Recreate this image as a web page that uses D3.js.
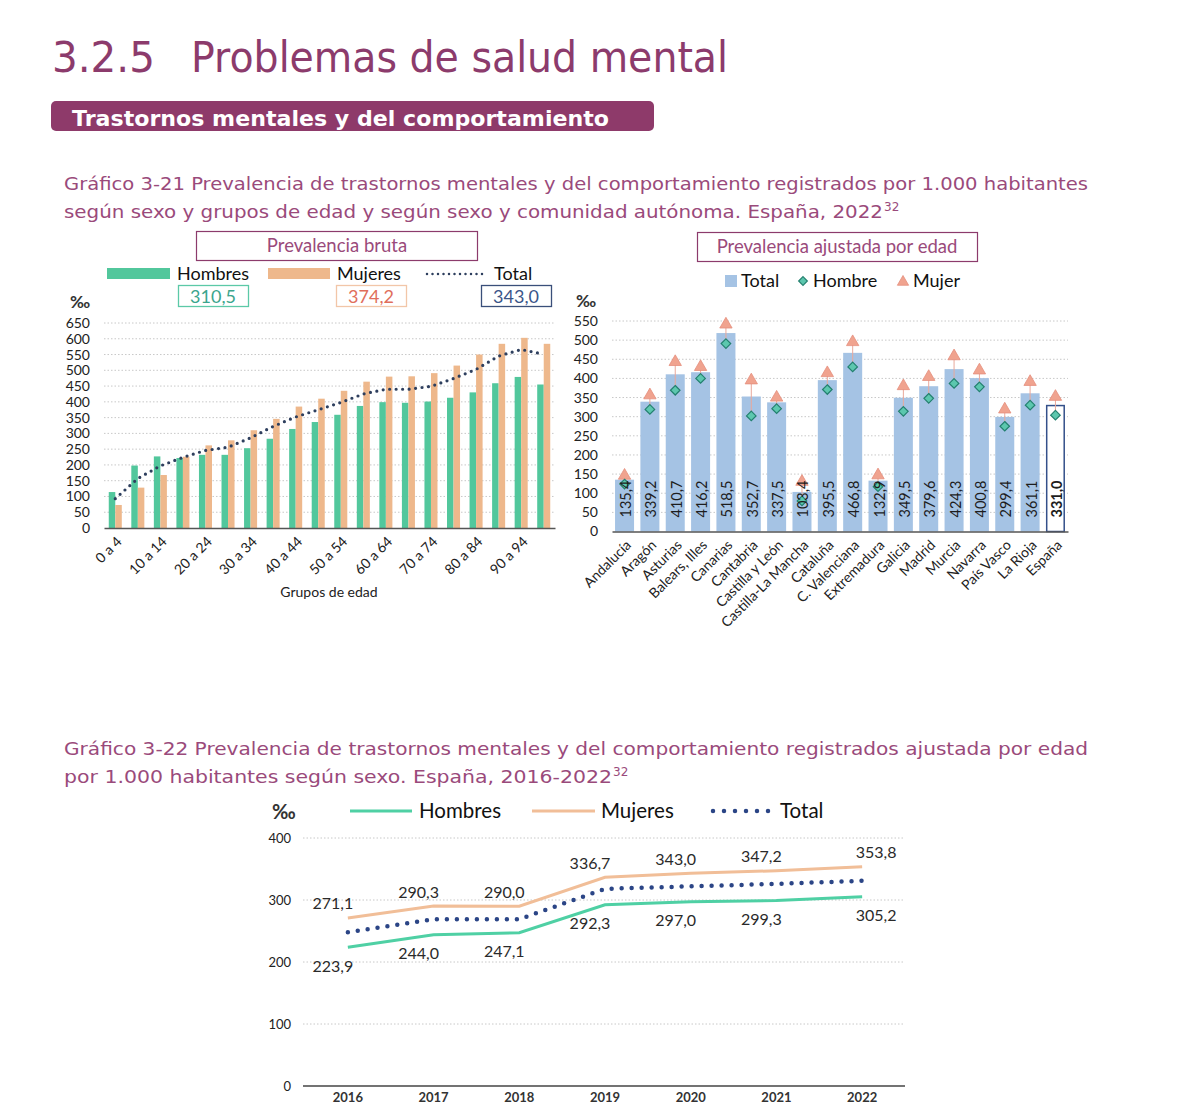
<!DOCTYPE html>
<html><head><meta charset="utf-8">
<script src="https://cdn.jsdelivr.net/npm/d3@7/dist/d3.min.js"></script>
<style>body{margin:0;background:#fff}svg{display:block}</style>
</head><body><svg id="c" width="1200" height="1113"></svg>
<script>
// ---------- DATA ----------
const ageGroups = ["0 a 4","5 a 9","10 a 14","15 a 19","20 a 24","25 a 29","30 a 34","35 a 39","40 a 44","45 a 49","50 a 54","55 a 59","60 a 64","65 a 69","70 a 74","75 a 79","80 a 84","85 a 89","90 a 94","95 y más"];
const ageHombres = [114,198,227,222,232,232,253,283,314,336,359,387,399,397,401,413,430,459,479,455];
const ageMujeres = [73,128,168,226,262,278,310,346,385,410,435,464,480,481,491,515,550,584,603,584];
const ageTotal   = [93,157,197,224,246,256,286,322,352,375,398,425,440,440,449,474,503,545,566,551];
const ageTicks = [0,50,100,150,200,250,300,350,400,450,500,550,600,650];
const summaryValues = [310.5, 374.2, 343.0];

const regions = ["Andalucía","Aragón","Asturias","Balears, Illes","Canarias","Cantabria","Castilla y León","Castilla-La Mancha","Cataluña","C. Valenciana","Extremadura","Galicia","Madrid","Murcia","Navarra","País Vasco","La Rioja","España"];
const regionTotal  = [135.4,339.2,410.7,416.2,518.5,352.7,337.5,103.4,395.5,466.8,132.9,349.5,379.6,424.3,400.8,299.4,361.1,331.0];
const regionHombre = [124,319,369,400,491,302,321,80,371,430,117,314,348,387,378,275,330,304];
const regionMujer  = [146,356,443,430,541,395,350,130,414,495,147,380,404,458,421,319,391,352];
const regionTicks = [0,50,100,150,200,250,300,350,400,450,500,550];

const years = ["2016","2017","2018","2019","2020","2021","2022"];
const yearHombres = [223.9,244.0,247.1,292.3,297.0,299.3,305.2];
const yearMujeres = [271.1,290.3,290.0,336.7,343.0,347.2,353.8];
const yearTotal   = [248,269,269,318,322,326,331];
const yearTicks = [0,100,200,300,400];

// ---------- HELPERS ----------
const svg = d3.select("#c");
svg.append("rect").attr("width",1200).attr("height",1113).attr("fill","#fff");
const fmt = v => d3.format(".1f")(v).replace(".", ",");
const HEAD = "DejaVu Sans, Verdana, sans-serif";
const CH = "Lato, 'Open Sans', sans-serif";
const PURPLE = "#8C3B6C";
const TPURPLE = "#9A4A7B";
const GREEN = "#52C79C", PEACH = "#EEB88C", NAVY = "#2E3F5E";
const BLUE = "#A5C3E4";
const GRID = "#C8C8C8";

// ---------- HEADER ----------
svg.append("text").attr("x",52).attr("y",72).attr("font-family",HEAD).attr("font-size",42)
  .attr("fill",PURPLE).attr("textLength",103).attr("lengthAdjust","spacingAndGlyphs").text("3.2.5");
svg.append("text").attr("x",191).attr("y",72).attr("font-family",HEAD).attr("font-size",42)
  .attr("fill",PURPLE).attr("textLength",537).attr("lengthAdjust","spacingAndGlyphs").text("Problemas de salud mental");
svg.append("rect").attr("x",51).attr("y",101).attr("width",603).attr("height",30).attr("rx",5).attr("fill","#8E3A6A");
svg.append("text").attr("x",72).attr("y",126).attr("font-family",HEAD).attr("font-weight","bold").attr("font-size",22)
  .attr("fill","#fff").attr("textLength",537).attr("lengthAdjust","spacingAndGlyphs").text("Trastornos mentales y del comportamiento");

function title(y, txt, len, sup) {
  svg.append("text").attr("x",64).attr("y",y).attr("font-family",HEAD).attr("font-size",18)
    .attr("fill",TPURPLE).attr("textLength",len).attr("lengthAdjust","spacingAndGlyphs").text(txt);
  if (sup) svg.append("text").attr("x",64+len+1).attr("y",y-7).attr("font-family",HEAD).attr("font-size",12)
    .attr("fill",TPURPLE).text(sup);
}
title(190,"Gráfico 3-21 Prevalencia de trastornos mentales y del comportamiento registrados por 1.000 habitantes",1024);
title(218,"según sexo y grupos de edad y según sexo y comunidad autónoma. España, 2022",819,"32");
title(755,"Gráfico 3-22 Prevalencia de trastornos mentales y del comportamiento registrados ajustada por edad",1024);
title(783,"por 1.000 habitantes según sexo. España, 2016-2022",548,"32");

// ---------- LEFT CHART ----------
const xL = d3.scaleBand().domain(ageGroups).range([104,555]);
const xLs = d3.scaleBand().domain(["H","M"]).range([0,xL.bandwidth()]).paddingOuter(0.73);
const yL = d3.scaleLinear().domain([0,650]).range([528,323]);
const gL = svg.append("g");
gL.selectAll("line.grid").data(ageTicks.filter(d=>d>0)).join("line")
  .attr("x1",104).attr("x2",555).attr("y1",d=>yL(d)).attr("y2",d=>yL(d))
  .attr("stroke",GRID).attr("stroke-width",1).attr("stroke-dasharray","1.5 2");
const yAxL = gL.append("g").attr("transform","translate(104,0)")
  .call(d3.axisLeft(yL).tickValues(ageTicks).tickSize(0).tickPadding(14));
yAxL.select(".domain").remove();
yAxL.selectAll("text").attr("font-family",CH).attr("font-size",14).attr("fill","#222");
ageGroups.forEach((g,i)=>{
  gL.append("rect").attr("x",xL(g)+xLs("H")).attr("y",yL(ageHombres[i])).attr("width",xLs.bandwidth())
    .attr("height",yL(0)-yL(ageHombres[i])).attr("fill",GREEN);
  gL.append("rect").attr("x",xL(g)+xLs("M")).attr("y",yL(ageMujeres[i])).attr("width",xLs.bandwidth())
    .attr("height",yL(0)-yL(ageMujeres[i])).attr("fill",PEACH);
});
gL.append("path").datum(ageTotal)
  .attr("d", d3.line().x((d,i)=>xL(ageGroups[i])+xL.bandwidth()/2).y(d=>yL(d)))
  .attr("fill","none").attr("stroke",NAVY).attr("stroke-width",3.2).attr("stroke-linecap","round")
  .attr("stroke-dasharray","0 6.5");
const xAxL = gL.append("g").attr("transform",`translate(0,${yL(0)})`)
  .call(d3.axisBottom(xL).tickValues(ageGroups.filter((d,i)=>i%2===0)).tickSize(0));
xAxL.select(".domain").attr("stroke","#555").attr("stroke-width",1.5);
xAxL.selectAll("text").attr("font-family",CH).attr("font-size",14).attr("fill","#222")
  .attr("x",0).attr("y",0).attr("dy","0.35em").attr("text-anchor","end")
  .attr("transform","translate(4,11) rotate(-45)");
gL.append("text").attr("x",329).attr("y",597).attr("text-anchor","middle").attr("font-family",CH)
  .attr("font-size",14).attr("fill","#222").text("Grupos de edad");
gL.append("text").attr("x",70).attr("y",308).attr("font-family",CH).attr("font-size",17).attr("font-weight","bold")
  .attr("fill","#333").text("‰");
gL.append("rect").attr("x",196.5).attr("y",231.5).attr("width",281).attr("height",29).attr("fill","none").attr("stroke",PURPLE).attr("stroke-width",1.2);
gL.append("text").attr("x",337).attr("y",252).attr("text-anchor","middle").attr("font-family",CH).attr("font-size",18.5)
  .attr("fill",TPURPLE).text("Prevalencia bruta");
gL.append("rect").attr("x",107).attr("y",268).attr("width",63).attr("height",11).attr("fill",GREEN);
gL.append("text").attr("x",177).attr("y",280).attr("font-family",CH).attr("font-size",18).attr("fill","#111").text("Hombres");
gL.append("rect").attr("x",268).attr("y",268).attr("width",62).attr("height",11).attr("fill",PEACH);
gL.append("text").attr("x",337).attr("y",280).attr("font-family",CH).attr("font-size",18).attr("fill","#111").text("Mujeres");
gL.append("line").attr("x1",427).attr("x2",485).attr("y1",274).attr("y2",274).attr("stroke",NAVY)
  .attr("stroke-width",2.5).attr("stroke-linecap","round").attr("stroke-dasharray","0 5.5");
gL.append("text").attr("x",494).attr("y",280).attr("font-family",CH).attr("font-size",18).attr("fill","#111").text("Total");
const boxes = [{x:178,c:"#5CC9A7",t:"#3BA58D"},{x:336,c:"#F2C6A8",t:"#E06E5B"},{x:481,c:"#3A4F7A",t:"#3B5589"}];
boxes.forEach((b,i)=>{
  gL.append("rect").attr("x",b.x+0.5).attr("y",285.5).attr("width",70).attr("height",21).attr("fill","#fff").attr("stroke",b.c).attr("stroke-width",1.3);
  gL.append("text").attr("x",b.x+35).attr("y",302.5).attr("text-anchor","middle").attr("font-family",CH).attr("font-size",18)
    .attr("fill",b.t).text(fmt(summaryValues[i]));
});

// ---------- RIGHT CHART ----------
const xR = d3.scaleBand().domain(regions).range([612,1068]).paddingInner(0.25).paddingOuter(0.12);
const yR = d3.scaleLinear().domain([0,550]).range([531.5,321]);
const gR = svg.append("g");
gR.selectAll("line.grid").data(regionTicks.filter(d=>d>0)).join("line")
  .attr("x1",612).attr("x2",1068).attr("y1",d=>yR(d)).attr("y2",d=>yR(d))
  .attr("stroke",GRID).attr("stroke-width",1).attr("stroke-dasharray","1.5 2");
const yAxR = gR.append("g").attr("transform","translate(612,0)")
  .call(d3.axisLeft(yR).tickValues(regionTicks).tickSize(0).tickPadding(14));
yAxR.select(".domain").remove();
yAxR.selectAll("text").attr("font-family",CH).attr("font-size",14).attr("fill","#222");
const last = regions.length-1;
regions.forEach((r,i)=>{
  const e = i===last;
  gR.append("rect").attr("x",xR(r)+(e?0.75:0)).attr("y",yR(regionTotal[i])+(e?0.75:0))
    .attr("width",xR.bandwidth()-(e?1.5:0)).attr("height",yR(0)-yR(regionTotal[i])-(e?0.75:0))
    .attr("fill",e?"#fff":BLUE).attr("stroke",e?"#34508A":"none").attr("stroke-width",1.5);
});
regions.forEach((r,i)=>{
  const cx = xR(r)+xR.bandwidth()/2;
  gR.append("line").attr("x1",cx).attr("x2",cx).attr("y1",yR(regionHombre[i])).attr("y2",yR(regionMujer[i]))
    .attr("stroke","#E9A89B").attr("stroke-width",1);
});
regions.forEach((r,i)=>{
  const cx = xR(r)+xR.bandwidth()/2;
  gR.append("path").attr("d",d3.symbol(d3.symbolTriangle,66)()).attr("transform",`translate(${cx},${yR(regionMujer[i])})`)
    .attr("fill","#F0A38F").attr("stroke","#E58E7C").attr("stroke-width",0.8);
  gR.append("path").attr("d",d3.symbol(d3.symbolDiamond2,58)()).attr("transform",`translate(${cx},${yR(regionHombre[i])})`)
    .attr("fill","#5CC7AE").attr("stroke","#23806F").attr("stroke-width",1.2);
});
regions.forEach((r,i)=>{
  const cx = xR(r)+xR.bandwidth()/2;
  gR.append("text").attr("transform",`translate(${cx+1},499) rotate(-90)`).attr("text-anchor","middle")
    .attr("dominant-baseline","central").attr("font-family",CH).attr("font-size",14.5)
    .attr("font-weight",i===last?"bold":"normal").attr("fill","#1d1d1d").text(fmt(regionTotal[i]));
});
const xAxR = gR.append("g").attr("transform",`translate(0,${yR(0)})`).call(d3.axisBottom(xR).tickSize(0));
xAxR.select(".domain").attr("stroke","#555").attr("stroke-width",1.5);
xAxR.selectAll("text").attr("font-family",CH).attr("font-size",14).attr("fill","#222")
  .attr("x",0).attr("y",0).attr("dy","0.35em").attr("text-anchor","end")
  .attr("transform","translate(4,11) rotate(-45)");
gR.append("text").attr("x",576).attr("y",307).attr("font-family",CH).attr("font-size",17).attr("font-weight","bold")
  .attr("fill","#333").text("‰");
gR.append("rect").attr("x",697.5).attr("y",232.5).attr("width",280).attr("height",29).attr("fill","none").attr("stroke",PURPLE).attr("stroke-width",1.2);
gR.append("text").attr("x",837).attr("y",253).attr("text-anchor","middle").attr("font-family",CH).attr("font-size",18.5)
  .attr("fill",TPURPLE).text("Prevalencia ajustada por edad");
gR.append("rect").attr("x",725).attr("y",275).attr("width",12).attr("height",12).attr("fill",BLUE);
gR.append("text").attr("x",741).attr("y",287).attr("font-family",CH).attr("font-size",18).attr("fill","#111").text("Total");
gR.append("path").attr("d",d3.symbol(d3.symbolDiamond2,48)()).attr("transform","translate(803,281)")
  .attr("fill","#5CC7AE").attr("stroke","#23806F").attr("stroke-width",1.2);
gR.append("text").attr("x",813).attr("y",287).attr("font-family",CH).attr("font-size",18).attr("fill","#111").text("Hombre");
gR.append("path").attr("d",d3.symbol(d3.symbolTriangle,55)()).attr("transform","translate(903,282)")
  .attr("fill","#F0A38F").attr("stroke","#E58E7C").attr("stroke-width",0.8);
gR.append("text").attr("x",913).attr("y",287).attr("font-family",CH).attr("font-size",18).attr("fill","#111").text("Mujer");

// ---------- BOTTOM CHART ----------
const xB = d3.scaleBand().domain(years).range([305,905]);
const yB = d3.scaleLinear().domain([0,400]).range([1086,838]);
const gB = svg.append("g");
gB.selectAll("line.grid").data(yearTicks.filter(d=>d>0)).join("line")
  .attr("x1",303).attr("x2",905).attr("y1",d=>yB(d)).attr("y2",d=>yB(d))
  .attr("stroke",GRID).attr("stroke-width",1).attr("stroke-dasharray","1.5 2");
const yAxB = gB.append("g").attr("transform","translate(303,0)")
  .call(d3.axisLeft(yB).tickValues(yearTicks).tickSize(0).tickPadding(12));
yAxB.select(".domain").remove();
yAxB.selectAll("text").attr("font-family",CH).attr("font-size",13).attr("fill","#222");
const xAxB = gB.append("g").attr("transform",`translate(0,${yB(0)})`).call(d3.axisBottom(xB).tickSize(0).tickPadding(7));
xAxB.select(".domain").attr("stroke","#444").attr("stroke-width",1.5).attr("d","M303,0H905");
xAxB.selectAll("text").attr("font-family",CH).attr("font-size",13).attr("font-weight","bold").attr("fill","#333");
const cxB = (d,i) => xB(years[i])+xB.bandwidth()/2;
gB.append("path").datum(yearMujeres).attr("d",d3.line().x(cxB).y(d=>yB(d)))
  .attr("fill","none").attr("stroke","#F1BE98").attr("stroke-width",3);
gB.append("path").datum(yearHombres).attr("d",d3.line().x(cxB).y(d=>yB(d)))
  .attr("fill","none").attr("stroke","#4FD0A4").attr("stroke-width",3);
gB.append("path").datum(yearTotal).attr("d",d3.line().x(cxB).y(d=>yB(d)))
  .attr("fill","none").attr("stroke","#2B4586").attr("stroke-width",4.5).attr("stroke-linecap","round")
  .attr("stroke-dasharray","0 10");
yearMujeres.forEach((v,i)=>{
  const dx = i===years.length-1 ? 14 : -15;
  gB.append("text").attr("x",cxB(v,i)+dx).attr("y",yB(v)-15).attr("text-anchor","middle").attr("dominant-baseline","central")
    .attr("font-family",CH).attr("font-size",16).attr("fill","#2a2a2a").text(fmt(v));
});
yearHombres.forEach((v,i)=>{
  const dx = i===years.length-1 ? 14 : -15;
  gB.append("text").attr("x",cxB(v,i)+dx).attr("y",yB(v)+18).attr("text-anchor","middle").attr("dominant-baseline","central")
    .attr("font-family",CH).attr("font-size",16).attr("fill","#2a2a2a").text(fmt(v));
});
gB.append("text").attr("x",272).attr("y",819).attr("font-family",CH).attr("font-size",20).attr("font-weight","bold")
  .attr("fill","#333").text("‰");
gB.append("line").attr("x1",350).attr("x2",412).attr("y1",811).attr("y2",811).attr("stroke","#4FD0A4").attr("stroke-width",3);
gB.append("text").attr("x",419).attr("y",818).attr("font-family",CH).attr("font-size",20.5).attr("fill","#111").text("Hombres");
gB.append("line").attr("x1",532).attr("x2",595).attr("y1",811).attr("y2",811).attr("stroke","#F1BE98").attr("stroke-width",3);
gB.append("text").attr("x",601).attr("y",818).attr("font-family",CH).attr("font-size",20.5).attr("fill","#111").text("Mujeres");
gB.append("line").attr("x1",713).attr("x2",769).attr("y1",811).attr("y2",811).attr("stroke","#2B4586").attr("stroke-width",4.5)
  .attr("stroke-linecap","round").attr("stroke-dasharray","0 11");
gB.append("text").attr("x",780).attr("y",818).attr("font-family",CH).attr("font-size",20.5).attr("fill","#111").text("Total");
</script></body></html>
